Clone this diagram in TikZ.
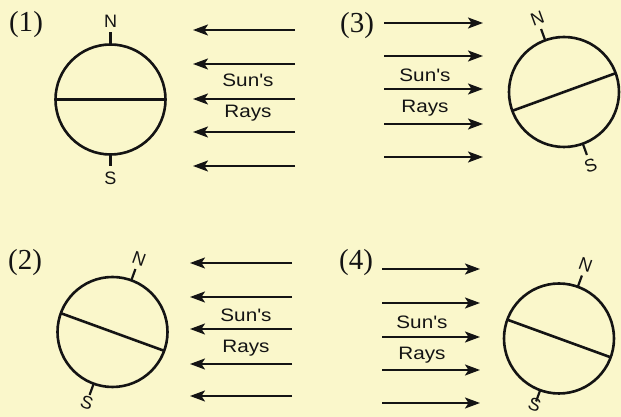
\documentclass[tikz,border=0pt]{standalone}
\usepackage{graphicx}
\usepackage{fontspec}
\setmainfont{Liberation Serif}
\setsansfont{Liberation Sans}
\usetikzlibrary{arrows.meta,calc}
\definecolor{bg}{RGB}{250,247,203}
\definecolor{ink}{RGB}{20,20,20}
\tikzset{
  globe/.style={circle,draw=ink,line width=2.6pt,minimum size=110pt,inner sep=0pt},
  axistick/.style={draw=ink,line width=2.2pt},
  equator/.style={draw=ink,line width=2.6pt},
  ray/.style={draw=ink,line width=1.8pt,-{Stealth[length=15pt,width=11pt,inset=3.5pt]}},
  pole/.style={font=\sffamily\fontsize{18}{18}\selectfont,text=ink,inner sep=0pt},
  raytext/.style={font=\sffamily\fontsize{18}{18}\selectfont,text=ink,inner sep=0pt},
  num/.style={font=\fontsize{29}{29}\selectfont,text=ink,inner sep=0pt}
}
\newcommand\earthglobe[5]{%
  \node[globe] (#1) at (#2,#3) {};
  \draw[equator] ($(#1)+({180+#4}:55)$) -- ($(#1)+({#4}:55)$);
  \draw[axistick] ($(#1)+({90+#4}:55)$) -- ($(#1)+({90+#4}:67)$);
  \draw[axistick] ($(#1)+({270+#4}:55)$) -- ($(#1)+({270+#4}:67)$);
  \node[pole,rotate=#4] (#1n) at ($(#1)+({90+#4}:78)$) {N};
  \node[pole,rotate=#4] (#1s) at ($(#1)+({270+#4}:#5)$) {S};
}
\newcommand\sunwords[3]{%
  \node[raytext] (#1a) at (#2,#3) {\scalebox{1.15}[1]{Sun\textquotesingle s}};
  \node[raytext] (#1b) at (#2,#3-33) {\scalebox{1.15}[1]{Rays}};
}
\begin{document}
\begin{tikzpicture}[x=1pt,y=1pt]
\fill[bg] (0,0) rectangle (621,417);
\clip (0,0) rectangle (621,417);
\useasboundingbox (0,0) rectangle (621,417);

% panel labels
\node[num] (l1) at (26,392) {(1)};
\node[num] (l3) at (357,391) {(3)};
\node[num] (l2) at (25,154) {(2)};
\node[num] (l4) at (356,154) {(4)};

% globes
\earthglobe{g1}{110.5}{317.5}{0}{79}
\earthglobe{g3}{564}{325}{20}{78}
\earthglobe{g2}{112.5}{85}{-20}{75}
\earthglobe{g4}{559}{78.5}{-20}{71}

% rays panel 1 (leftward)
\foreach \i/\y in {1/387,2/353,3/318,4/285,5/251}{
  \coordinate (pa\i) at (295,\y);
  \coordinate (pb\i) at (193,\y);
  \draw[ray] (pa\i) -- (pb\i);
}
% rays panel 3 (rightward)
\foreach \i/\y in {1/394,2/361,3/328,4/293,5/260}{
  \coordinate (qa\i) at (384,\y);
  \coordinate (qb\i) at (483,\y);
  \draw[ray] (qa\i) -- (qb\i);
}
% rays panel 2 (leftward)
\foreach \i/\y in {1/154,2/120,3/88,4/53,5/21}{
  \coordinate (ra\i) at (292,\y);
  \coordinate (rb\i) at (190,\y);
  \draw[ray] (ra\i) -- (rb\i);
}
% rays panel 4 (rightward)
\foreach \i/\y in {1/148,2/114,3/80,4/47,5/14}{
  \coordinate (sa\i) at (382,\y);
  \coordinate (sb\i) at (480,\y);
  \draw[ray] (sa\i) -- (sb\i);
}

\sunwords{t1}{248}{337}
\sunwords{t3}{425}{342}
\sunwords{t2}{246}{102}
\sunwords{t4}{422}{95}
\end{tikzpicture}
\end{document}
